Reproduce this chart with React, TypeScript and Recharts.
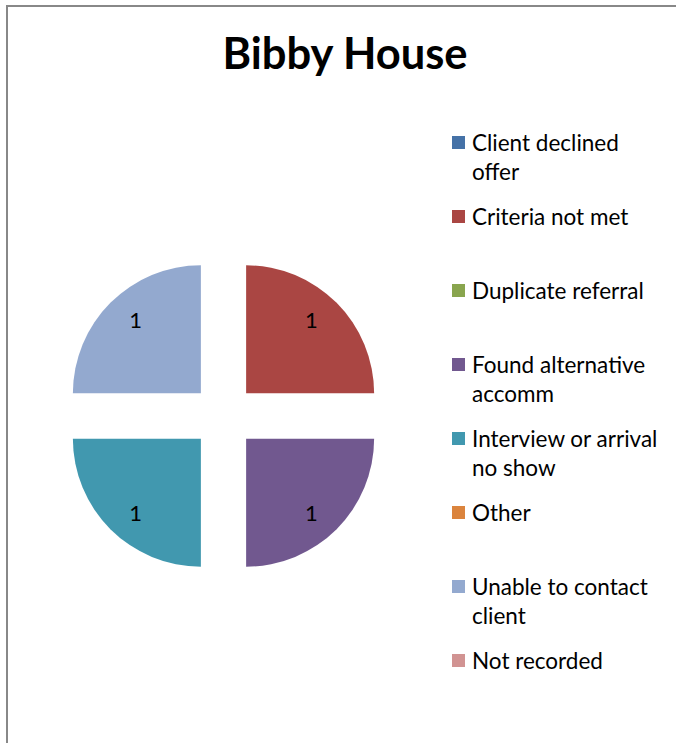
import React from 'react'
import { PieChart, Pie, Sector, Legend } from 'recharts'

const categories = [
  'Client declined offer',
  'Criteria not met',
  'Duplicate referral',
  'Found alternative accomm',
  'Interview or arrival no show',
  'Other',
  'Unable to contact client',
  'Not recorded',
]
const values = [0, 1, 0, 1, 1, 0, 1, 0]
const colors = ['#4572A7', '#AA4643', '#89A54E', '#71588F', '#4198AF', '#DB843D', '#93A9CF', '#D19392']

const data = categories.map((name, i) => ({ name, value: values[i], fill: colors[i] }))

const FONT = 'Lato, "Open Sans", sans-serif'
const EXPLODE = 32
const RAD = Math.PI / 180

// every slice pulled out from the centre along its mid angle (Excel "explode")
const ExplodedSector = (props: any) => {
  const { cx, cy, midAngle, innerRadius, outerRadius, startAngle, endAngle, fill } = props
  const dx = EXPLODE * Math.cos(-midAngle * RAD)
  const dy = EXPLODE * Math.sin(-midAngle * RAD)
  return (
    <Sector
      cx={cx + dx}
      cy={cy + dy}
      innerRadius={innerRadius}
      outerRadius={outerRadius}
      startAngle={startAngle}
      endAngle={endAngle}
      fill={fill}
    />
  )
}

const renderLabel = (props: any) => {
  const { cx, cy, midAngle, outerRadius, value } = props
  if (!value) return null
  const rx = EXPLODE + outerRadius * 0.72
  const ry = EXPLODE + outerRadius * 0.82
  const x = cx + rx * Math.cos(-midAngle * RAD)
  const y = cy + ry * Math.sin(-midAngle * RAD)
  return (
    <text x={x} y={y} fill="#000" fontSize={22} fontFamily={FONT} textAnchor="middle" dominantBaseline="central">
      {value}
    </text>
  )
}

const LegendContent = () => (
  <div style={{ fontFamily: FONT, fontSize: 22.5, color: '#000' }}>
    {categories.map((name, i) => (
      <div key={name} style={{ display: 'flex', alignItems: 'flex-start', height: 74, lineHeight: '29px' }}>
        <span style={{ width: 13, height: 13, background: colors[i], marginTop: 8, marginRight: 7, flexShrink: 0 }} />
        <span style={{ width: 190 }}>{name}</span>
      </div>
    ))}
  </div>
)

export default function App() {
  return (
    <div style={{ position: 'absolute', left: 0, top: 0, width: 676, height: 743, background: '#fff', overflow: 'hidden' }}>
      <div
        style={{
          position: 'absolute',
          left: 6,
          top: 5,
          width: 700,
          height: 760,
          borderLeft: '2px solid #888',
          borderTop: '2px solid #888',
        }}
      />
      <div
        style={{
          position: 'absolute',
          left: 0,
          top: 26,
          width: 690,
          textAlign: 'center',
          fontFamily: FONT,
          fontWeight: 700,
          fontSize: 43.5,
          color: '#000',
        }}
      >
        Bibby House
      </div>
      <div style={{ position: 'absolute', left: 0, top: 0 }}>
        <PieChart width={676} height={743}>
          <Pie
            data={data}
            dataKey="value"
            nameKey="name"
            cx={218.5}
            cy={411}
            outerRadius={128}
            startAngle={90}
            endAngle={-270}
            stroke="none"
            shape={ExplodedSector}
            label={renderLabel}
            labelLine={false}
            isAnimationActive={false}
          />
          <Legend
            layout="vertical"
            content={<LegendContent />}
            wrapperStyle={{ position: 'absolute', left: 452, top: 128, width: 224 }}
          />
        </PieChart>
      </div>
    </div>
  )
}
